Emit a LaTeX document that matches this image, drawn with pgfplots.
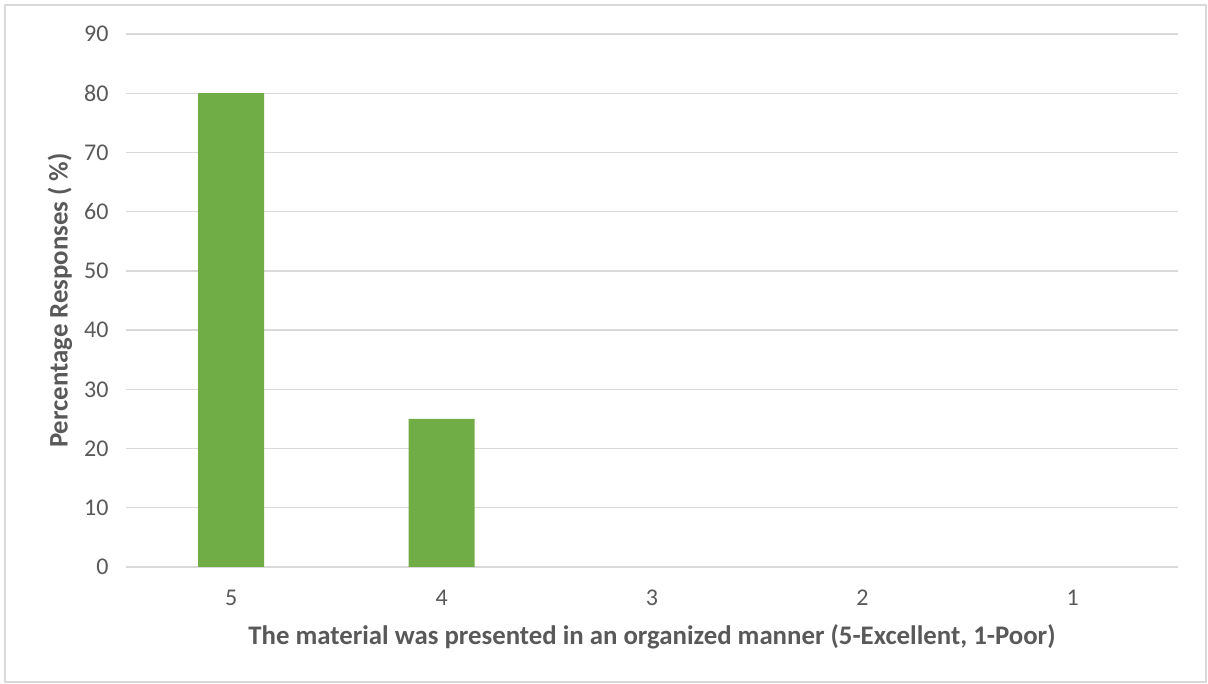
\documentclass[border=0pt]{standalone}
\usepackage{fontspec}
\setmainfont{Carlito}
\usepackage{pgfplots}
\pgfplotsset{compat=1.18}
\definecolor{barg}{HTML}{70AD47}
\definecolor{gridc}{HTML}{D9D9D9}
\definecolor{txt}{HTML}{595959}
\begin{document}
\begin{tikzpicture}[x=1pt,y=1pt]
\useasboundingbox (-126,-117) rectangle (1082,567);
\draw[gridc, line width=1.3pt] (-121,-115) rectangle (1080,562);
\begin{axis}[
  at={(0,0)}, anchor=south west,
  scale only axis,
  width=1052pt, height=533pt,
  ymin=0, ymax=90, ytick={0,10,...,90},
  xmin=-0.5, xmax=4.5,
  xtick={0,1,2,3,4}, xticklabels={5,4,3,2,1},
  ybar, bar width=66pt,
  axis line style={draw=none},
  ymajorgrids, grid style={gridc, line width=1.3pt},
  tick style={draw=none},
  /pgf/number format/assume math mode=true,
  tick label style={font=\fontsize{24}{28}\selectfont, color=txt},
  xticklabel style={yshift=-15pt},
  yticklabel style={xshift=-14pt},
  xlabel={The material was presented in an organized manner (5-Excellent, 1-Poor)},
  ylabel={Percentage Responses ( \%)},
  label style={font=\bfseries\fontsize{26.8}{30}\selectfont, color=txt},
  x label style={at={(axis description cs:0.5,-0.1313)}, anchor=center},
  y label style={at={(axis description cs:-0.0627,0.5)}, anchor=center},
  restrict y to domain=0.5:100,
]
\addplot[fill=barg, draw=none] coordinates {(0,80) (1,25) (2,0) (3,0) (4,0)};
\end{axis}
\end{tikzpicture}
\end{document}
